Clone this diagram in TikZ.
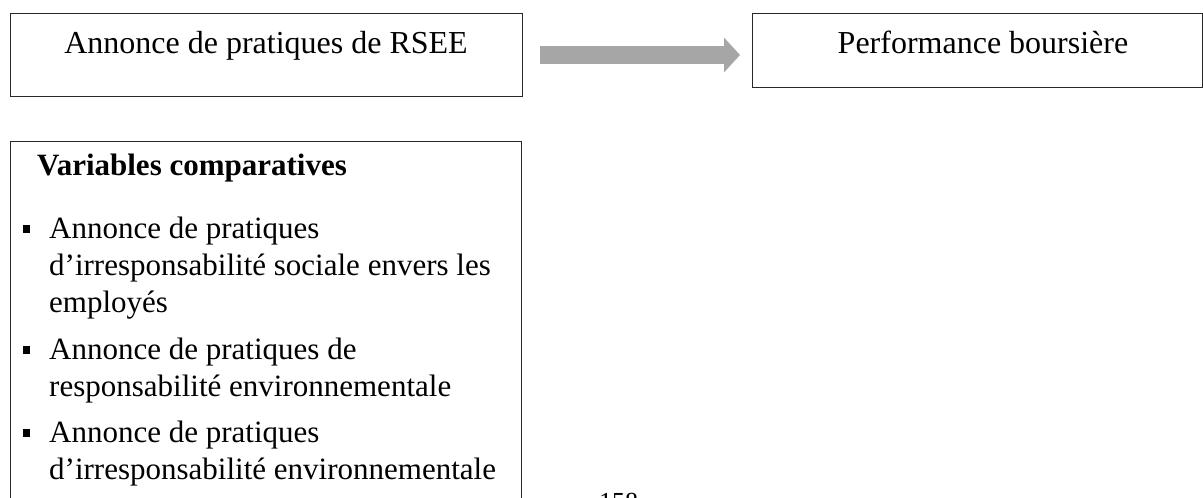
\documentclass[tikz,border=0pt]{standalone}
\usepackage{fontspec}
\setmainfont{Liberation Serif}
\usetikzlibrary{arrows.meta}
\definecolor{arrowgray}{RGB}{166,166,166}
\definecolor{edgecol}{RGB}{40,40,40}
\begin{document}
\begin{tikzpicture}[x=1pt,y=-1pt,
  box/.style={draw=edgecol,line width=1pt,anchor=north west,inner sep=0pt},
  toptext/.style={font=\fontsize{32}{38}\selectfont,anchor=base,inner sep=0pt},
  body/.style={font=\fontsize{31}{38}\selectfont,anchor=base west,inner sep=0pt},
  heading/.style={font=\bfseries\fontsize{31}{38}\selectfont,anchor=base west,inner sep=0pt},
  bulletsq/.style={fill=black,minimum size=7.5pt,inner sep=0pt},
  bigarrow/.style={arrowgray,line width=18pt,-{Triangle[length=16pt,width=34pt]}}]
\useasboundingbox (0,0) rectangle (1203,498);
% boxes
\node[box,minimum width=512pt,minimum height=83pt] (b1) at (10,13) {};
\node[box,minimum width=449.5pt,minimum height=74pt] (b2) at (752,13) {};
\node[box,minimum width=511pt,minimum height=420pt] (b3) at (10,141) {};
% top texts
\node[toptext] (t1) at (266,53) {Annonce de pratiques de RSEE};
\node[toptext] (t2) at (983,53) {Performance boursière};
% arrow
\draw[bigarrow] ([xshift=17pt]b1.east) -- ([xshift=-12pt]b2.west |- b1.east);
% list box
\node[heading] (h) at (37,175) {Variables comparatives};
\node[body] (l0) at (49,238) {Annonce de pratiques};
\node[body] (l1) at (49,275) {d’irresponsabilité sociale envers les};
\node[body] (l2) at (49,312.5) {employés};
\node[body] (l3) at (49,359) {Annonce de pratiques de};
\node[body] (l4) at (49,396) {responsabilité environnementale};
\node[body] (l5) at (49,442) {Annonce de pratiques};
\node[body] (l6) at (49,479) {d’irresponsabilité environnementale};
\node[bulletsq] (s0) at (26.5,229) {};
\node[bulletsq] (s3) at (26.5,350) {};
\node[bulletsq] (s5) at (26.5,433) {};
% page number
\node[anchor=base west,font=\fontsize{26}{30}\selectfont,inner sep=0pt] (pg) at (599,510) {158};
\end{tikzpicture}
\end{document}
